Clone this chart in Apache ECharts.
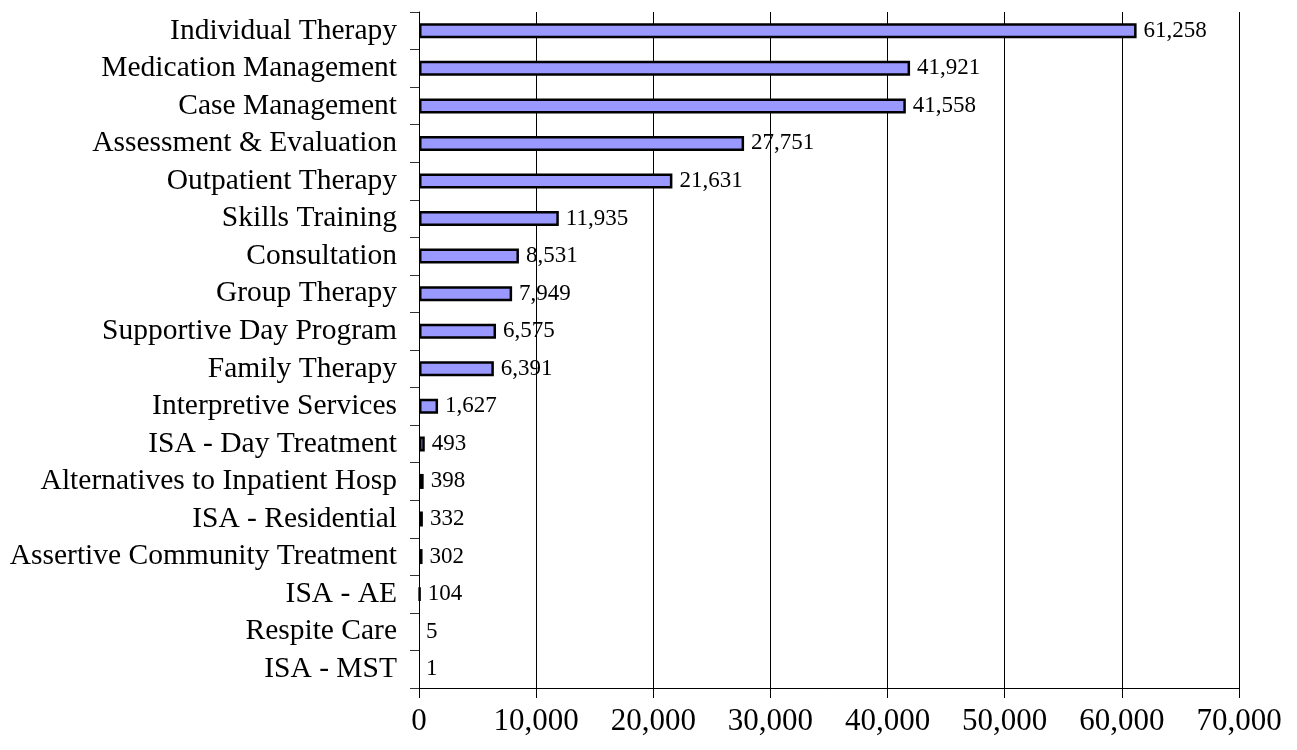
<!DOCTYPE html>
<html>
<head>
<meta charset="utf-8">
<script src="https://cdn.jsdelivr.net/npm/echarts@6/dist/echarts.min.js"></script>
<style>
  html, body { margin: 0; padding: 0; background: #fff; }
  #chart { width: 1297px; height: 750px; }
</style>
</head>
<body>
<div id="chart"></div>
<script>
// Service categories, listed top to bottom as in the picture
const services = [
  'Individual Therapy',
  'Medication Management',
  'Case Management',
  'Assessment & Evaluation',
  'Outpatient Therapy',
  'Skills Training',
  'Consultation',
  'Group Therapy',
  'Supportive Day Program',
  'Family Therapy',
  'Interpretive Services',
  'ISA - Day Treatment',
  'Alternatives to Inpatient Hosp',
  'ISA - Residential',
  'Assertive Community Treatment',
  'ISA - AE',
  'Respite Care',
  'ISA - MST'
]
const counts = [61258, 41921, 41558, 27751, 21631, 11935, 8531, 7949, 6575, 6391, 1627, 493, 398, 332, 302, 104, 5, 1]

const xMin = 0
const xMax = 70000
const xStep = 10000

const serif = '"Liberation Serif", "Times New Roman", serif'
const fmtNumber = (n) => n.toLocaleString('en-US')

// bars thinner than a pixel show no outline in the original
const barData = counts.map((v) => (v < 50 ? { value: v, itemStyle: { borderWidth: 0 } } : v))

const chart = echarts.init(document.getElementById('chart'), null, { renderer: 'canvas' })

chart.setOption({
  animation: false,
  backgroundColor: '#ffffff',
  grid: { left: 419, right: 58, top: 12, bottom: 62, containLabel: false },
  xAxis: {
    type: 'value',
    min: xMin,
    max: xMax,
    interval: xStep,
    axisLine: { show: true, lineStyle: { color: '#000', width: 1 } },
    axisTick: { show: true, length: 10, lineStyle: { color: '#000' } },
    axisLabel: {
      color: '#000',
      fontFamily: serif,
      fontSize: 31,
      margin: 18,
      formatter: (v) => fmtNumber(v)
    },
    splitLine: { show: true, lineStyle: { color: '#000', width: 1 } }
  },
  yAxis: {
    type: 'category',
    data: services,
    inverse: true,
    axisLine: { show: true, lineStyle: { color: '#000', width: 1 } },
    axisTick: { show: true, interval: 0, length: 9, lineStyle: { color: '#333' } },
    axisLabel: {
      interval: 0,
      color: '#000',
      fontFamily: serif,
      fontSize: 29.5,
      margin: 22
    },
    splitLine: { show: false }
  },
  series: [{
    type: 'bar',
    data: barData,
    barWidth: 15,
    itemStyle: { color: '#9999ff', borderColor: '#000', borderWidth: 2.5 },
    label: {
      show: true,
      position: 'right',
      distance: 7,
      color: '#000',
      fontFamily: serif,
      fontSize: 23,
      formatter: (p) => fmtNumber(p.value)
    }
  }]
})
</script>
</body>
</html>
